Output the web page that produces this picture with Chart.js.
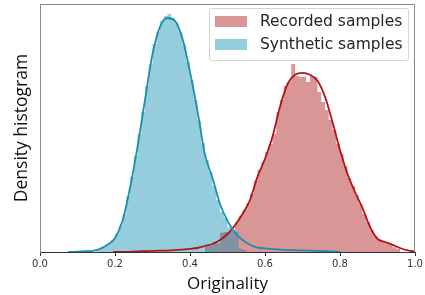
<!DOCTYPE html>
<html>
<head>
<meta charset="utf-8">
<script src="https://cdn.jsdelivr.net/npm/chart.js@4/dist/chart.umd.min.js"></script>
<style>
  html, body { margin: 0; padding: 0; background: #fff; }
  #wrap { position: relative; width: 425px; height: 295px; }
  #legend { position: absolute; left: 209px; top: 8px; width: 200px; height: 53px;
    border: 1px solid #d4d4d4; border-radius: 3px; background: rgba(255,255,255,0.85);
    font-family: "DejaVu Sans", sans-serif; font-size: 15.5px; color: #262626; box-sizing: border-box; }
  .row { position: absolute; left: 0; height: 20px; display: flex; align-items: center; white-space: nowrap; }
  .sw { width: 32px; height: 11px; margin-left: 5px; margin-right: 13px; }
</style>
</head>
<body>
<div id="wrap">
  <canvas id="c" width="425" height="295"></canvas>
  <div id="legend">
    <div class="row" style="top:2px"><span class="sw" style="background:rgb(217,150,150)"></span><span id="l1"></span></div>
    <div class="row" style="top:25px"><span class="sw" style="background:rgb(150,205,220)"></span><span id="l2"></span></div>
  </div>
</div>
<script>
// ---- data (density units) ----
const seriesNames = ["Recorded samples", "Synthetic samples"];
const xTicks = [0.0, 0.2, 0.4, 0.6, 0.8, 1.0];
const binWidth = 0.01;

// Recorded samples histogram: first bin starts at 0.44
const recordedStart = 0.44;
const recordedHist = [0.13,0.15,0.25,0.22,0.48,0.50,0.50,0.52,0.75,0.90,
  1.05,1.22,1.45,1.78,2.05,2.25,2.50,2.70,2.95,3.50,
  3.80,4.15,4.25,4.70,4.40,4.38,4.38,4.25,4.40,4.38,
  4.00,3.75,3.55,3.30,3.05,2.70,2.45,2.15,1.85,1.65,
  1.42,1.20,0.95,0.75,0.55,0.40,0.32,0.27,0.22,0.18,
  0.12,0.08];

// Synthetic samples histogram: first bin starts at 0.15
const syntheticStart = 0.15;
const syntheticHist = [0.05,0.10,0.15,0.22,0.30,0.45,0.65,0.95,1.40,1.88,
  2.40,2.95,3.50,4.15,4.70,5.20,5.50,5.78,5.90,5.95,
  5.85,5.72,5.50,5.18,4.75,4.30,3.80,3.28,2.72,2.30,
  2.00,1.65,1.30,1.00,0.85,0.62,0.55,0.50,0.08,0.05];

// KDE curves
const recordedKdeX = [0.195,0.25,0.30,0.35,0.40,0.42,0.44,0.46,0.48,0.50,0.52,0.54,0.56,0.58,0.60,0.62,0.64,0.66,0.68,0.70,0.72,0.74,0.76,0.78,0.80,0.82,0.84,0.86,0.88,0.90,0.92,0.94,0.96,0.98,1.00];
const recordedKdeY = [0.00,0.01,0.03,0.04,0.08,0.10,0.15,0.20,0.30,0.45,0.67,0.95,1.30,1.88,2.33,2.88,3.63,4.20,4.43,4.48,4.43,4.28,3.88,3.25,2.55,1.95,1.50,1.10,0.63,0.33,0.25,0.18,0.10,0.04,0.01];

const syntheticKdeX = [0.075,0.10,0.12,0.14,0.16,0.18,0.20,0.22,0.24,0.26,0.28,0.30,0.32,0.34,0.36,0.38,0.40,0.42,0.44,0.46,0.48,0.50,0.52,0.54,0.56,0.58,0.60,0.64,0.70,0.76,0.80];
const syntheticKdeY = [0.00,0.01,0.02,0.03,0.08,0.18,0.35,0.78,1.60,2.63,3.80,4.95,5.63,5.85,5.78,5.33,4.50,3.52,2.43,1.85,1.20,0.78,0.48,0.30,0.18,0.11,0.09,0.06,0.04,0.02,0.00];

document.getElementById('l1').textContent = seriesNames[0];
document.getElementById('l2').textContent = seriesNames[1];

function histPoints(start, vals) {
  const pts = vals.map((v, i) => ({x: +(start + i * binWidth).toFixed(4), y: v}));
  pts.push({x: +(start + vals.length * binWidth).toFixed(4), y: 0});
  return pts;
}
function curvePoints(xs, ys) { return xs.map((x, i) => ({x, y: ys[i]})); }

const framePlugin = {
  id: 'frame',
  afterDatasetsDraw(chart) {
    const {ctx, chartArea: a} = chart;
    ctx.save();
    ctx.strokeStyle = '#8a8a8a';
    ctx.lineWidth = 1;
    ctx.beginPath();
    ctx.moveTo(a.left, a.top + 0.5);
    ctx.lineTo(a.right - 0.5, a.top + 0.5);
    ctx.lineTo(a.right - 0.5, a.bottom);
    ctx.stroke();
    ctx.restore();
  }
};

new Chart(document.getElementById('c'), {
  type: 'line',
  data: {
    datasets: [
      { label: seriesNames[0] + ' KDE', data: curvePoints(recordedKdeX, recordedKdeY), borderColor: '#b01318', borderWidth: 1.8, pointRadius: 0, fill: false, cubicInterpolationMode: 'monotone', order: 1 },
      { label: seriesNames[1] + ' KDE', data: curvePoints(syntheticKdeX, syntheticKdeY), borderColor: '#1b8fae', borderWidth: 1.8, pointRadius: 0, fill: false, cubicInterpolationMode: 'monotone', order: 0 },
      { label: seriesNames[1], data: histPoints(syntheticStart, syntheticHist), stepped: 'before', borderWidth: 0, borderColor: 'rgba(0,0,0,0)', backgroundColor: 'rgba(22,144,177,0.45)', pointRadius: 0, fill: 'origin', order: 2 },
      { label: seriesNames[0], data: histPoints(recordedStart, recordedHist), stepped: 'before', borderWidth: 0, borderColor: 'rgba(0,0,0,0)', backgroundColor: 'rgb(217,150,150)', pointRadius: 0, fill: 'origin', order: 3 }
    ]
  },
  options: {
    responsive: false,
    animation: false,
    layout: { padding: { top: 4, right: 10, left: 0, bottom: 0 } },
    plugins: { legend: { display: false }, tooltip: { enabled: false } },
    scales: {
      x: {
        type: 'linear', min: 0, max: 1,
        afterFit: s => { s.height = 43; },
        afterBuildTicks: s => { s.ticks = xTicks.map(v => ({value: v})); },
        ticks: { callback: v => v.toFixed(1), color: '#333', font: { family: 'DejaVu Sans', size: 10 }, padding: 2, maxRotation: 0 },
        grid: { drawOnChartArea: false, drawTicks: true, tickLength: 4, color: '#333' },
        border: { color: '#333', width: 1 },
        title: { display: true, text: 'Originality', color: '#111', font: { family: 'Open Sans', size: 17 }, padding: { top: 0, bottom: 1 } }
      },
      y: {
        min: 0, max: 6.2,
        afterFit: s => { s.width = 40; },
        ticks: { display: false },
        grid: { display: false },
        border: { color: '#8a8a8a', width: 1 },
        title: { display: true, text: 'Density histogram', color: '#111', font: { family: 'Open Sans', size: 17.5 }, padding: { top: 12, bottom: 0 } }
      }
    }
  },
  plugins: [framePlugin]
});
</script>
</body>
</html>
